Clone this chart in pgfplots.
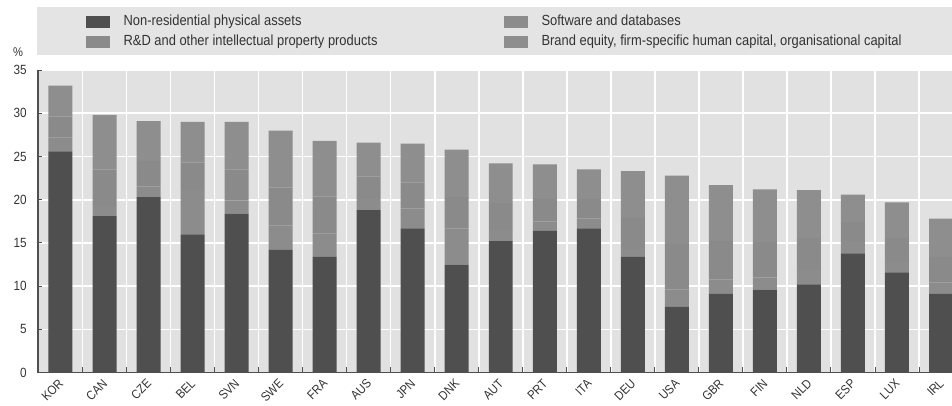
\documentclass[border=0pt]{standalone}
\usepackage{fontspec}
\setmainfont{Liberation Sans}[FakeStretch=0.88]
\usepackage{pgfplots}
\usepackage{pgfplotstable}
\pgfplotsset{compat=1.18}

\definecolor{nonres}{HTML}{4F4F4F}
\definecolor{soft}{HTML}{8C8C8C}
\definecolor{rnd}{HTML}{8A8A8A}
\definecolor{brand}{HTML}{8E8E8E}
\definecolor{plotbg}{HTML}{E1E1E1}
\definecolor{legbg}{HTML}{E4E4E4}
\definecolor{txt}{HTML}{333333}

% investment shares, % of value added
\pgfplotstableread{
x  c    nonres soft rd  brand
0  KOR  25.6   1.6  2.4 3.6
1  CAN  18.1   1.2  4.2 6.3
2  CZE  20.3   1.2  3.0 4.6
3  BEL  16.0   5.1  3.2 4.7
4  SVN  18.4   1.5  3.6 5.5
5  SWE  14.2   2.8  4.4 6.6
6  FRA  13.4   2.7  4.3 6.4
7  AUS  18.8   1.3  2.6 3.9
8  JPN  16.7   2.3  3.0 4.5
9  DNK  12.5   4.2  3.6 5.5
10 AUT  15.2   1.3  3.1 4.6
11 PRT  16.4   1.1  2.6 4.0
12 ITA  16.7   1.1  2.3 3.4
13 DEU  13.4   0.9  3.6 5.4
14 USA  7.6    2.0  5.3 7.9
15 GBR  9.1    1.7  4.4 6.5
16 FIN  9.6    1.4  4.1 6.1
17 NLD  10.2   1.7  3.7 5.5
18 ESP  13.8   1.4  2.2 3.2
19 LUX  11.6   1.2  2.8 4.1
20 IRL  9.1    1.3  3.0 4.4
}\invest

\begin{document}
\begin{tikzpicture}[font=\color{txt}]
\path[use as bounding box] (0,0) rectangle (714pt,304.5pt);
\fill[legbg] (27.75pt,263.25pt) rectangle (714pt,299.25pt);
\node[font=\fontsize{9.5}{11}\selectfont\color{txt}] at (13.5pt,265.5pt) {\%};

\begin{axis}[
    at={(28.5pt,25pt)}, anchor=south west,
    scale only axis,
    width=685.5pt, height=227pt,
    ybar stacked,
    bar width=0.545,
    xmin=-0.511, xmax=20.25,
    ymin=0, ymax=35,
    ytick={0,5,...,35},
    xtick=data,
    xticklabels from table={\invest}{c},
    minor xtick={-0.5,0.5,...,20.5},
    axis lines=left,
    axis line style={-, color=nonres, line width=0.8pt},
    axis background/.style={fill=plotbg},
    ymajorgrids=true, xminorgrids=true,
    major grid style={white, line width=1.2pt},
    minor grid style={white, line width=1.2pt},
    tick align=inside,
    x tick style={draw=none},
    minor x tick style={draw=nonres, line width=0.7pt},
    minor tick length=4pt,
    y tick style={draw=nonres, line width=0.7pt},
    major tick length=3pt,
    /pgf/number format/assume math mode=true,
    yticklabel style={font=\fontsize{10}{12}\selectfont\color{txt}, anchor=east, xshift=-5pt},
    xticklabel style={font=\fontsize{9.5}{11}\selectfont\color{txt}, rotate=45, anchor=east, yshift=-5pt, xshift=-1pt},
    legend columns=2,
    legend style={at={(axis description cs:0.0525,1.182)}, anchor=north west,
        draw=none, fill=none, inner sep=0pt, row sep=5pt,
        font=\fontsize{11}{13}\selectfont\color{txt},
        nodes={inner sep=0pt, text height=8pt, text depth=2pt},
        /tikz/every odd column/.append style={column sep=10pt},
        /tikz/every even column/.append style={column sep=5.5pt}},
    legend cell align=left,
    legend image code/.code={\fill[#1] (0pt,-4.5pt) rectangle (18pt,4.5pt);},
]
\addplot[fill=nonres, draw=none] table[x=x, y=nonres] {\invest};
\addlegendentry{\makebox[280pt][l]{Non-residential physical assets}}
\addplot[fill=soft, draw=none] table[x=x, y=soft] {\invest};
\addlegendentry{Software and databases}
\addplot[fill=rnd, draw=none] table[x=x, y=rd] {\invest};
\addlegendentry{\makebox[280pt][l]{R\&D and other intellectual property products}}
\addplot[fill=brand, draw=none] table[x=x, y=brand] {\invest};
\addlegendentry{Brand equity, firm-specific human capital, organisational capital}
\end{axis}
\end{tikzpicture}
\end{document}
